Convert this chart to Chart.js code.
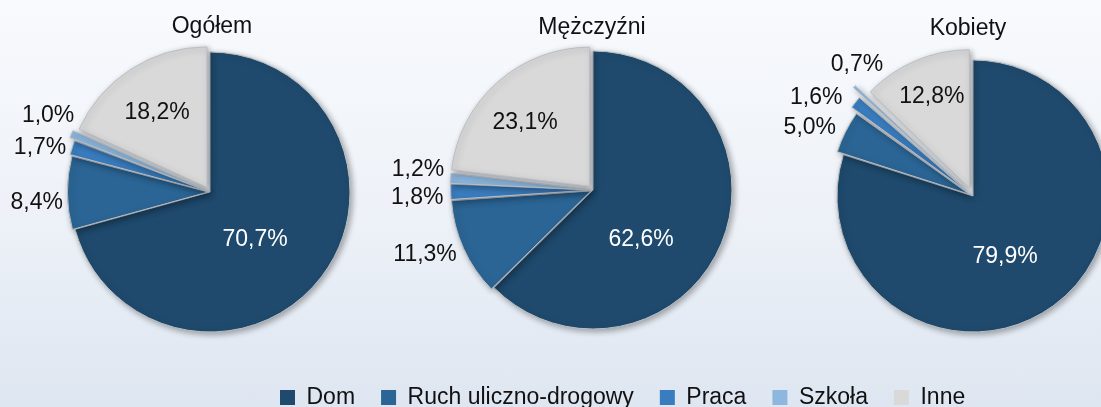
<!DOCTYPE html>
<html>
<head>
<meta charset="utf-8">
<script src="https://cdn.jsdelivr.net/npm/chart.js@4.4.1/dist/chart.umd.min.js"></script>
<style>
html,body{margin:0;padding:0;}
body{width:1101px;height:407px;overflow:hidden;position:relative;
  background:linear-gradient(to bottom,#f8fafd 0%,#eef2f8 50%,#dee6f1 100%);}
canvas{position:absolute;left:0;top:0;}
</style>
</head>
<body>
<canvas id="c1" width="420" height="407"></canvas>
<canvas id="c2" width="1186" height="407"></canvas>
<canvas id="c3" width="1692" height="420"></canvas>
<script>
// ---- data ----
const categories = ['Dom', 'Ruch uliczno-drogowy', 'Praca', 'Szkoła', 'Inne'];
const titles = ['Ogółem', 'Mężczyźni', 'Kobiety'];
const ogolem = [70.7, 8.4, 1.7, 1.0, 18.2];
const mezczyzni = [62.6, 11.3, 1.8, 1.2, 23.1];
const kobiety = [79.9, 5.0, 1.6, 0.7, 12.8];

// ---- styles ----
const FONT = '"Liberation Sans", Arial, sans-serif';
const colors = ['#1f4a6d', '#2b6595', '#3a7dbf', '#8db7de', '#d9d9d9'];

function fmt(v) { return v.toFixed(1).replace('.', ',') + '%'; }

const shadowPlugin = {
  id: 'pieShadow',
  beforeDatasetsDraw(chart) {
    const c = chart.ctx;
    c.save();
    c.shadowColor = 'rgba(0,0,0,0.35)';
    c.shadowBlur = 6;
    c.shadowOffsetX = 2;
    c.shadowOffsetY = 2;
  },
  afterDatasetsDraw(chart) { chart.ctx.restore(); }
};

const textPlugin = {
  id: 'pieText',
  afterDraw(chart, args, opts) {
    const meta = chart.getDatasetMeta(0);
    const ds = chart.data.datasets[0];
    const ctx = chart.ctx;
    ctx.save();
    ctx.font = '23px ' + FONT;
    ctx.textAlign = 'center';
    ctx.textBaseline = 'middle';
    meta.data.forEach((el, i) => {
      const {x, y, startAngle, endAngle, outerRadius} = el;
      const [f, sh] = opts.place[i];
      const a = (startAngle + endAngle) / 2 + sh * Math.PI / 180;
      const px = x + Math.cos(a) * outerRadius * f;
      const py = y + Math.sin(a) * outerRadius * f;
      ctx.fillStyle = i === 0 ? '#ffffff' : '#111111';
      ctx.fillText(fmt(ds.data[i]), px, py);
    });
    ctx.fillStyle = '#111111';
    ctx.fillText(opts.title, meta.data[0].x + opts.titleDx, opts.titleY);
    ctx.restore();
  }
};

function legendLabels(chart) {
  const base = (Chart.overrides.pie && Chart.overrides.pie.plugins && Chart.overrides.pie.plugins.legend
    ? Chart.overrides.pie.plugins.legend.labels.generateLabels
    : Chart.overrides.doughnut.plugins.legend.labels.generateLabels);
  const items = base(chart);
  items.forEach(it => { it.lineWidth = 0; it.strokeStyle = 'rgba(0,0,0,0)'; });
  return items;
}

function makePie(id, values, cfg) {
  return new Chart(document.getElementById(id), {
    type: 'pie',
    data: {
      labels: categories,
      datasets: [{
        data: values,
        backgroundColor: colors,
        borderColor: '#b9bec4',
        borderWidth: 1,
        radius: cfg.radius,
        offset: cfg.offset
      }]
    },
    options: {
      responsive: false,
      animation: false,
      layout: { autoPadding: false, padding: cfg.padding },
      plugins: {
        title: { display: false },
        tooltip: { enabled: false },
        legend: cfg.legend ? {
          display: true,
          position: 'bottom',
          align: 'start',
          labels: {
            boxWidth: 15, boxHeight: 15, padding: 26, color: '#111111',
            font: { family: FONT, size: 23 },
            generateLabels: legendLabels
          }
        } : { display: false },
        pieText: { title: cfg.title, titleY: cfg.titleY, titleDx: cfg.titleDx, place: cfg.place }
      }
    },
    plugins: [shadowPlugin, textPlugin]
  });
}

makePie('c1', ogolem, {
  title: titles[0], titleY: 27, titleDx: 2,
  radius: 140,
  offset: [0, 7, 10, 21, 22],
  padding: { left: 0, right: 0, top: 0, bottom: 23 },
  place: [[0.47, 9.5], [1.24, -3.2], [1.254, -3.3], [1.28, 2.7], [0.68, -1]]
});

makePie('c2', mezczyzni, {
  title: titles[1], titleY: 27.5, titleDx: -1,
  radius: 139,
  offset: [0, 9, 7, 8, 20],
  padding: { left: 0, right: 0, top: 0, bottom: 27 },
  place: [[0.50, 23.5], [1.296, 3.1], [1.266, -1.9], [1.267, 1.8], [0.687, -3.8]]
});

makePie('c3', kobiety, {
  title: titles[2], titleY: 29, titleDx: -5,
  radius: 136,
  offset: [0, 16, 30, 52, 34],
  padding: { left: 254, right: 0, top: 32, bottom: 1 },
  legend: true,
  place: [[0.507, 8.5], [1.30, -4], [1.36, -6.5], [1.287, 5.8], [0.79, 0.5]]
});
</script>
</body>
</html>
